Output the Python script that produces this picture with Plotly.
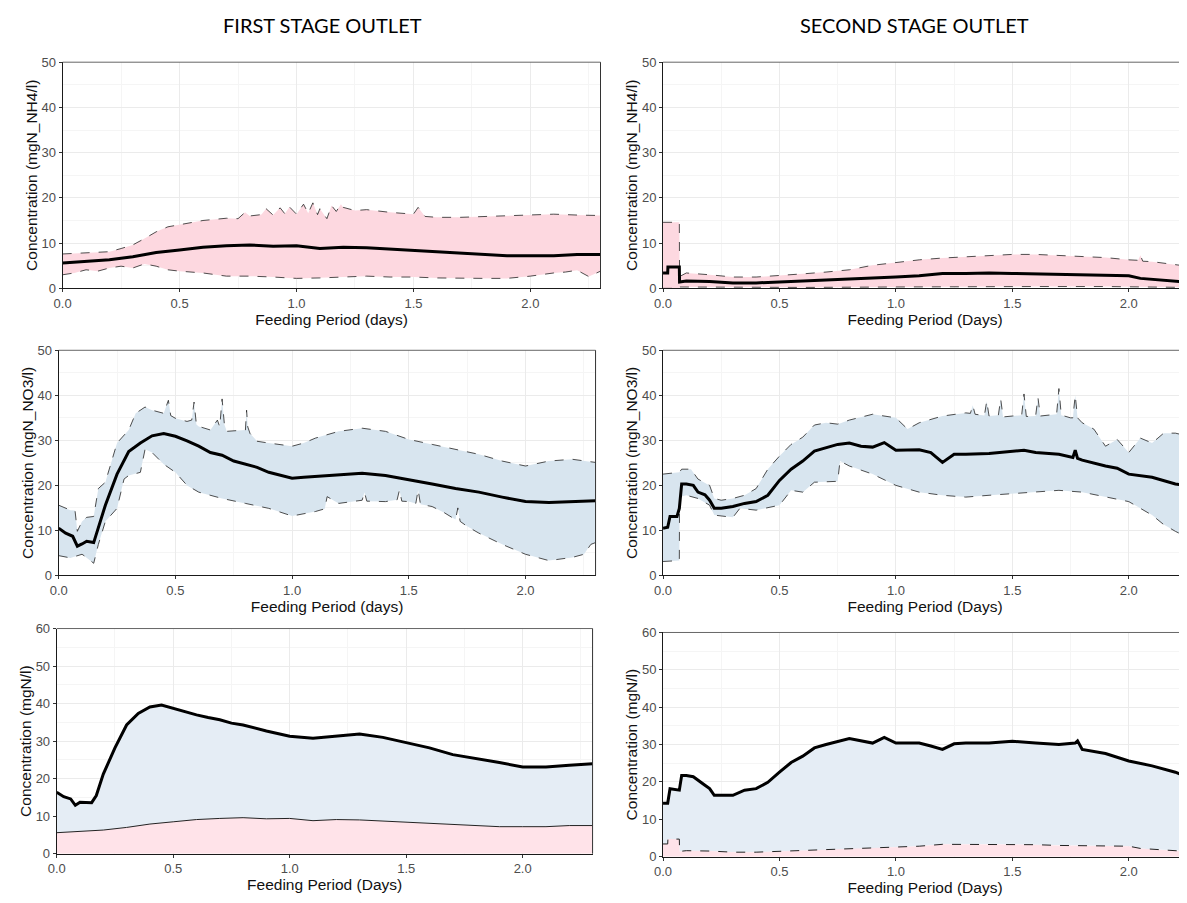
import plotly.graph_objects as go

# Screen size and the browser's default 8px body margin around the plot div
SW, SH = 1187, 903
OFF = 8
FW, FH = SW - OFF, SH - OFF

# ---------------- DATA ----------------
# First stage NH4 (top-left)
S1_NH4_MEAN_X = [0, 0.1, 0.2, 0.3, 0.4, 0.5, 0.6, 0.7, 0.8, 0.9, 1.0, 1.1, 1.2, 1.3, 1.4, 1.5, 1.6, 1.7, 1.8, 1.9, 2.0, 2.1, 2.2, 2.3]
S1_NH4_MEAN = [5.6, 6.0, 6.3, 7.0, 7.9, 8.5, 9.1, 9.4, 9.6, 9.3, 9.4, 8.8, 9.1, 9.0, 8.7, 8.5, 8.1, 7.8, 7.5, 7.2, 7.2, 7.2, 7.5, 7.5]
S1_NH4_UP_X = [0, 0.1, 0.2, 0.25, 0.3, 0.35, 0.4, 0.45, 0.5, 0.6, 0.7, 0.75, 0.78, 0.8, 0.85, 0.87, 0.9, 0.93, 0.95, 0.97,
               1.0, 1.03, 1.05, 1.07, 1.09, 1.1, 1.13, 1.15, 1.17, 1.19, 1.2, 1.25, 1.3, 1.4, 1.5, 1.52, 1.55, 1.6, 1.7, 1.8,
               1.9, 2.0, 2.1, 2.2, 2.3]
S1_NH4_UP = [7.6, 7.8, 8.1, 8.8, 9.6, 11.0, 12.5, 13.6, 14.1, 15.0, 15.5, 15.4, 16.8, 16.0, 16.3, 17.6, 16.2, 17.8, 16.5, 18.0,
             16.4, 18.6, 16.6, 18.9, 16.3, 17.6, 15.4, 18.3, 17.0, 18.6, 17.9, 17.2, 17.4, 16.8, 16.4, 17.9, 15.9, 15.7, 15.7, 15.9,
             16.1, 16.3, 16.4, 16.2, 16.1]
S1_NH4_LO_X = [0, 0.05, 0.1, 0.15, 0.2, 0.25, 0.3, 0.35, 0.4, 0.45, 0.5, 0.6, 0.7, 0.8, 0.9, 1.0, 1.1, 1.2, 1.3, 1.4,
               1.5, 1.6, 1.7, 1.8, 1.9, 2.0, 2.1, 2.15, 2.2, 2.25, 2.3]
S1_NH4_LO = [3.0, 3.4, 4.1, 3.8, 4.5, 4.9, 4.5, 5.4, 4.9, 4.1, 3.8, 3.4, 2.7, 2.7, 2.5, 2.2, 2.3, 2.5, 2.7, 2.5,
             2.5, 2.3, 2.2, 2.2, 2.2, 2.7, 3.4, 3.6, 4.0, 2.6, 3.8]

# Second stage NH4 (top-right)
S2_NH4_MEAN_X = [0, 0.02, 0.021, 0.07, 0.071, 0.1, 0.2, 0.3, 0.4, 0.5, 0.6, 0.7, 0.8, 0.9, 1.0, 1.1, 1.2, 1.3, 1.4, 1.5,
                 1.6, 1.7, 1.8, 1.9, 2.0, 2.05, 2.1, 2.2, 2.25]
S2_NH4_MEAN = [3.4, 3.4, 4.7, 4.7, 1.4, 1.6, 1.5, 1.2, 1.2, 1.4, 1.6, 1.8, 2.0, 2.2, 2.5, 2.8, 3.3, 3.3, 3.4, 3.3,
               3.2, 3.0, 3.0, 2.9, 2.8, 2.2, 2.0, 1.7, 1.4]
S2_NH4_UP_X = [0, 0.07, 0.071, 0.1, 0.2, 0.3, 0.4, 0.5, 0.6, 0.7, 0.8, 0.9, 1.0, 1.1, 1.2, 1.3, 1.4, 1.5, 1.6, 1.7,
               1.8, 1.9, 2.0, 2.04, 2.05, 2.06, 2.1, 2.2, 2.25]
S2_NH4_UP = [14.6, 14.6, 2.6, 3.4, 3.0, 2.5, 2.5, 2.8, 3.2, 3.6, 4.1, 5.1, 5.7, 6.3, 6.7, 7.0, 7.3, 7.5, 7.5, 7.3,
             7.0, 6.8, 6.3, 6.2, 7.3, 6.0, 5.9, 5.2, 4.9]
S2_NH4_LO_X = [0, 0.07, 0.071, 0.3, 0.6, 1.0, 1.3, 1.6, 1.9, 2.1, 2.25]
S2_NH4_LO = [0.0, 0.0, 0.3, 0.2, 0.2, 0.3, 0.4, 0.4, 0.4, 0.3, 0.2]

# First stage NO3 (middle-left)
S1_NO3_MEAN_X = [0, 0.03, 0.06, 0.08, 0.1, 0.12, 0.15, 0.17, 0.2, 0.25, 0.3, 0.35, 0.4, 0.45, 0.5, 0.55, 0.6, 0.65, 0.7, 0.75,
                 0.8, 0.85, 0.9, 0.95, 1.0, 1.05, 1.1, 1.2, 1.3, 1.4, 1.5, 1.6, 1.7, 1.8, 1.9, 2.0, 2.1, 2.2, 2.3]
S1_NO3_MEAN = [10.5, 9.4, 8.7, 6.5, 7.0, 7.6, 7.3, 10.5, 15.6, 22.5, 27.5, 29.4, 31.0, 31.5, 30.9, 29.9, 28.7, 27.3, 26.7, 25.4,
               24.7, 24.0, 22.9, 22.2, 21.6, 21.8, 22.0, 22.3, 22.7, 22.2, 21.3, 20.3, 19.3, 18.5, 17.4, 16.4, 16.2, 16.4, 16.6]
S1_NO3_UP_X = [0, 0.05, 0.07, 0.08, 0.1, 0.12, 0.15, 0.17, 0.2, 0.25, 0.3, 0.33, 0.37, 0.4, 0.45, 0.47, 0.48, 0.5, 0.55, 0.57,
               0.58, 0.59, 0.6, 0.65, 0.68, 0.69, 0.7, 0.71, 0.72, 0.8, 0.805, 0.81, 0.82, 0.85, 0.9, 1.0, 1.05, 1.1, 1.2, 1.3,
               1.4, 1.5, 1.6, 1.7, 1.8, 1.9, 2.0, 2.1, 2.2, 2.3]
S1_NO3_UP = [15.6, 14.5, 14.4, 9.8, 12.0, 12.9, 13.1, 19.3, 20.7, 29.4, 32.3, 36.0, 37.4, 36.7, 36.0, 38.9, 35.5, 34.9, 34.2, 34.5,
             38.5, 33.5, 33.1, 32.3, 34.5, 33.0, 39.2, 33.5, 32.0, 32.3, 36.7, 33.0, 31.5, 29.8, 29.4, 28.7, 29.4, 30.5, 32.0, 32.7,
             32.0, 30.2, 29.1, 28.0, 26.9, 25.4, 24.3, 25.4, 25.8, 25.1]
S1_NO3_LO_X = [0, 0.05, 0.1, 0.12, 0.15, 0.17, 0.2, 0.25, 0.28, 0.3, 0.35, 0.37, 0.4, 0.45, 0.5, 0.55, 0.6, 0.7, 0.8, 0.9,
               1.0, 1.1, 1.14, 1.15, 1.2, 1.3, 1.31, 1.32, 1.4, 1.45, 1.46, 1.47, 1.5, 1.53, 1.54, 1.55, 1.6, 1.65, 1.7, 1.71,
               1.72, 1.75, 1.8, 1.9, 2.0, 2.1, 2.2, 2.25, 2.28, 2.3]
S1_NO3_LO = [4.4, 3.9, 4.7, 4.0, 2.7, 6.9, 12.0, 14.9, 21.4, 22.2, 22.9, 28.0, 27.3, 24.7, 22.9, 20.0, 18.5, 17.1, 16.0, 14.9,
             13.2, 14.2, 14.8, 17.5, 16.0, 16.7, 18.5, 16.5, 16.4, 16.8, 19.0, 16.5, 16.4, 16.0, 19.0, 15.8, 15.3, 14.0, 12.4, 15.0,
             12.0, 10.9, 9.4, 6.9, 4.7, 3.3, 4.0, 4.7, 6.9, 7.3]

# Second stage NO3 (middle-right)
S2_NO3_MEAN_X = [0, 0.02, 0.03, 0.06, 0.07, 0.08, 0.1, 0.13, 0.15, 0.18, 0.2, 0.22, 0.25, 0.3, 0.35, 0.4, 0.45, 0.5, 0.55, 0.6,
                 0.65, 0.7, 0.75, 0.8, 0.85, 0.9, 0.95, 1.0, 1.05, 1.1, 1.15, 1.2, 1.25, 1.3, 1.4, 1.5, 1.55, 1.6, 1.7, 1.76,
                 1.77, 1.78, 1.8, 1.9, 1.95, 2.0, 2.1, 2.2, 2.25]
S2_NO3_MEAN = [10.5, 10.7, 13.1, 13.1, 14.9, 20.3, 20.3, 20.0, 18.5, 17.9, 16.7, 14.9, 14.9, 15.3, 16.0, 16.4, 17.8, 21.1, 23.6, 25.4,
               27.6, 28.3, 29.1, 29.4, 28.7, 28.5, 29.5, 27.8, 27.8, 27.9, 27.3, 25.1, 26.9, 26.9, 27.1, 27.6, 27.8, 27.3, 26.9, 26.2,
               27.8, 26.0, 25.6, 24.3, 23.8, 22.5, 21.8, 20.3, 20.0]
S2_NO3_UP_X = [0, 0.07, 0.08, 0.12, 0.15, 0.2, 0.22, 0.25, 0.3, 0.35, 0.4, 0.45, 0.5, 0.55, 0.6, 0.65, 0.7, 0.75, 0.8, 0.9,
               1.0, 1.05, 1.1, 1.2, 1.3, 1.32, 1.33, 1.34, 1.38, 1.39, 1.4, 1.44, 1.45, 1.46, 1.5, 1.54, 1.55, 1.56, 1.6, 1.61,
               1.62, 1.65, 1.69, 1.7, 1.71, 1.75, 1.76, 1.77, 1.78, 1.8, 1.85, 1.9, 1.95, 2.0, 2.05, 2.1, 2.15, 2.2, 2.25]
S2_NO3_UP = [22.5, 22.9, 23.6, 23.6, 21.4, 20.0, 17.1, 16.7, 17.1, 17.8, 19.3, 23.6, 26.5, 29.1, 30.7, 33.4, 33.9, 33.6, 34.5, 35.8,
             35.0, 32.5, 33.9, 35.4, 36.1, 36.0, 37.8, 35.8, 35.5, 38.7, 35.4, 35.6, 39.2, 35.2, 35.4, 35.6, 40.3, 35.3, 35.4, 39.5,
             35.4, 35.5, 35.8, 41.5, 35.6, 35.0, 35.0, 40.0, 35.0, 33.9, 32.5, 28.7, 30.2, 27.3, 30.5, 29.4, 31.6, 31.6, 31.0]
S2_NO3_LO_X = [0, 0.07, 0.071, 0.1, 0.15, 0.2, 0.22, 0.3, 0.33, 0.4, 0.5, 0.55, 0.6, 0.65, 0.75, 0.76, 0.8, 0.9, 1.0, 1.1,
               1.2, 1.3, 1.4, 1.5, 1.6, 1.7, 1.8, 1.9, 2.0, 2.1, 2.15, 2.2, 2.25]
S2_NO3_LO = [3.1, 3.3, 17.4, 17.8, 17.1, 15.6, 13.4, 12.9, 14.9, 14.5, 15.6, 18.9, 18.5, 20.7, 20.9, 25.4, 24.3, 22.5, 20.0, 18.5,
             17.8, 17.4, 17.8, 18.2, 18.5, 18.9, 18.5, 17.4, 16.4, 13.4, 11.3, 9.8, 8.5]

# Total N (bottom row)
S1_TOT_X = [0, 0.03, 0.06, 0.08, 0.1, 0.15, 0.17, 0.2, 0.25, 0.3, 0.35, 0.4, 0.45, 0.5, 0.55, 0.6, 0.65, 0.7, 0.75, 0.8,
            0.9, 1.0, 1.1, 1.2, 1.3, 1.4, 1.5, 1.6, 1.7, 1.8, 1.9, 2.0, 2.1, 2.2, 2.3]
S1_TOT = [16.4, 15.2, 14.6, 12.9, 13.7, 13.6, 15.5, 21.2, 28.2, 34.3, 37.4, 39.1, 39.6, 38.7, 37.8, 37.0, 36.3, 35.7, 34.8, 34.3,
          32.7, 31.3, 30.8, 31.3, 31.9, 31.0, 29.5, 28.2, 26.4, 25.4, 24.3, 23.1, 23.1, 23.6, 24.0]
S2_TOT_X = [0, 0.02, 0.03, 0.07, 0.08, 0.1, 0.13, 0.15, 0.18, 0.2, 0.22, 0.3, 0.35, 0.4, 0.45, 0.5, 0.55, 0.6, 0.65, 0.7,
            0.75, 0.8, 0.9, 0.95, 1.0, 1.1, 1.15, 1.2, 1.25, 1.3, 1.4, 1.5, 1.6, 1.7, 1.77, 1.78, 1.8, 1.9, 2.0, 2.1,
            2.2, 2.25]
S2_TOT = [14.3, 14.3, 18.2, 17.8, 21.7, 21.7, 21.4, 20.4, 19.1, 18.2, 16.4, 16.4, 17.8, 18.2, 19.9, 22.6, 25.2, 26.9, 29.1, 30.0,
          30.9, 31.6, 30.4, 31.9, 30.4, 30.4, 29.6, 28.7, 30.2, 30.4, 30.4, 30.9, 30.4, 30.0, 30.4, 31.0, 28.7, 27.6, 25.6, 24.3,
          22.6, 21.3]

X_TICKS = [0, 0.5, 1.0, 1.5, 2.0]
X_TICK_TEXT = ["0.0", "0.5", "1.0", "1.5", "2.0"]
COL_TITLES = ["FIRST STAGE OUTLET", "SECOND STAGE OUTLET"]

# ---------------- STYLE ----------------
PINK = "#FDD8E0"
BLUE = "#D8E5EF"
PINK_L = "#FFE3E9"
BLUE_L = "#E5EDF5"
FONT = "Liberation Sans, Arial, sans-serif"
TITLE_FONT = "Lato, Liberation Sans, sans-serif"
TICK_COL = "#4D4D4D"


def fx(s):
    return (s - OFF) / FW


def fy(s):
    return 1 - (s - OFF) / FH


# panel screen-pixel boxes: (left, right, top, bottom, xmax, ymax, xtitle, ytitle, right_border)
panels = [
    (54, 596, 56, 286, 2.3, 50, "Feeding Period (days)", "Concentration (mgN_NH4/l)", True),
    (659, 1187, 56, 286, 2.25, 50, "Feeding Period (Days)", "Concentration (mgN_NH4/l)", False),
    (50, 591, 349, 578, 2.3, 50, "Feeding Period (days)", "Concentration (mgN_NO3/l)", True),
    (659, 1187, 349, 578, 2.25, 50, "Feeding Period (Days)", "Concentration (mgN_NO3/l)", False),
    (48, 588, 632, 861, 2.3, 60, "Feeding Period (Days)", "Concentration (mgN/l)", True),
    (659, 1187, 636, 864, 2.25, 60, "Feeding Period (Days)", "Concentration (mgN/l)", False),
]

fig = go.Figure()
layout = {}
shapes = []

for i, (l, r, t, b, xmax, ymax, xt, yt, rb) in enumerate(panels, start=1):
    xs = "" if i == 1 else str(i)
    layout["xaxis" + xs] = dict(
        domain=[fx(l), min(1.0, fx(r))], range=[0, xmax], anchor="y" + xs,
        tickvals=X_TICKS, ticktext=X_TICK_TEXT,
        showgrid=True, gridcolor="#EBEBEB", gridwidth=1,
        minor=dict(dtick=0.25, tick0=0, showgrid=True, gridcolor="#F5F5F5", gridwidth=1),
        showline=True, linecolor="#1a1a1a", linewidth=1,
        ticks="outside", ticklen=3, tickcolor="#333333",
        tickfont=dict(family=FONT, size=13, color=TICK_COL),
        title=dict(text=xt, font=dict(family=FONT, size=15.5, color="#111111"), standoff=3),
        zeroline=False, fixedrange=True,
    )
    layout["yaxis" + xs] = dict(
        domain=[fy(b), fy(t)], range=[0, ymax], anchor="x" + xs,
        dtick=10, tick0=0,
        showgrid=True, gridcolor="#EBEBEB", gridwidth=1,
        minor=dict(dtick=5, tick0=0, showgrid=True, gridcolor="#F5F5F5", gridwidth=1),
        showline=True, linecolor="#1a1a1a", linewidth=1,
        ticks="outside", ticklen=3, tickcolor="#333333",
        tickfont=dict(family=FONT, size=13, color=TICK_COL),
        title=dict(text=yt, font=dict(family=FONT, size=15.5, color="#111111"), standoff=0),
        zeroline=False, fixedrange=True,
    )
    xr = "x" + xs + " domain"
    yr = "y" + xs + " domain"
    shapes.append(dict(type="line", xref=xr, yref=yr, x0=0, x1=1, y0=1, y1=1,
                       line=dict(color="#666666", width=1), layer="above"))
    if rb:
        shapes.append(dict(type="line", xref=xr, yref=yr, x0=1, x1=1, y0=0, y1=1,
                           line=dict(color="#333333", width=1), layer="above"))


def band(idx, ux, uy, lx, ly, mx, my, color):
    xs = "x" if idx == 1 else "x" + str(idx)
    ys = "y" if idx == 1 else "y" + str(idx)
    fig.add_trace(go.Scatter(x=list(ux) + list(lx)[::-1], y=list(uy) + list(ly)[::-1],
                             fill="toself", fillcolor=color, line=dict(width=0),
                             mode="lines", xaxis=xs, yaxis=ys, hoverinfo="skip", showlegend=False))
    for bx, by in ((ux, uy), (lx, ly)):
        fig.add_trace(go.Scatter(x=bx, y=by, mode="lines", line=dict(color="#222222", width=0.8, dash="dash"),
                                 xaxis=xs, yaxis=ys, showlegend=False))
    fig.add_trace(go.Scatter(x=mx, y=my, mode="lines", line=dict(color="#000000", width=3),
                             xaxis=xs, yaxis=ys, showlegend=False))


band(1, S1_NH4_UP_X, S1_NH4_UP, S1_NH4_LO_X, S1_NH4_LO, S1_NH4_MEAN_X, S1_NH4_MEAN, PINK)
band(2, S2_NH4_UP_X, S2_NH4_UP, S2_NH4_LO_X, S2_NH4_LO, S2_NH4_MEAN_X, S2_NH4_MEAN, PINK)
band(3, S1_NO3_UP_X, S1_NO3_UP, S1_NO3_LO_X, S1_NO3_LO, S1_NO3_MEAN_X, S1_NO3_MEAN, BLUE)
band(4, S2_NO3_UP_X, S2_NO3_UP, S2_NO3_LO_X, S2_NO3_LO, S2_NO3_MEAN_X, S2_NO3_MEAN, BLUE)


def stacked(idx, nx, ny, tx, ty, ndash):
    xs = "x" + str(idx)
    ys = "y" + str(idx)
    fig.add_trace(go.Scatter(x=list(tx) + list(nx)[::-1], y=list(ty) + list(ny)[::-1],
                             fill="toself", fillcolor=BLUE_L, line=dict(width=0),
                             mode="lines", xaxis=xs, yaxis=ys, hoverinfo="skip", showlegend=False))
    fig.add_trace(go.Scatter(x=nx, y=ny, mode="lines", fill="tozeroy", fillcolor=PINK_L,
                             line=dict(color="#222222", width=1, dash=ndash),
                             xaxis=xs, yaxis=ys, showlegend=False))
    fig.add_trace(go.Scatter(x=tx, y=ty, mode="lines", line=dict(color="#000000", width=3),
                             xaxis=xs, yaxis=ys, showlegend=False))


stacked(5, S1_NH4_MEAN_X, S1_NH4_MEAN, S1_TOT_X, S1_TOT, "solid")
stacked(6, S2_NH4_MEAN_X, S2_NH4_MEAN, S2_TOT_X, S2_TOT, "dash")

annotations = [
    dict(text=COL_TITLES[0], x=fx(316), y=fy(18), xref="paper", yref="paper", showarrow=False,
         xanchor="center", yanchor="middle",
         font=dict(family=TITLE_FONT, size=20, color="#000000")),
    dict(text=COL_TITLES[1], x=fx(912), y=fy(18), xref="paper", yref="paper", showarrow=False,
         xanchor="center", yanchor="middle",
         font=dict(family=TITLE_FONT, size=20, color="#000000")),
]

fig.update_layout(
    width=FW, height=FH, margin=dict(l=0, r=0, t=0, b=0),
    paper_bgcolor="white", plot_bgcolor="white",
    shapes=shapes, annotations=annotations, showlegend=False,
    font=dict(family=FONT),
    **layout,
)

fig.write_html("out.html")
